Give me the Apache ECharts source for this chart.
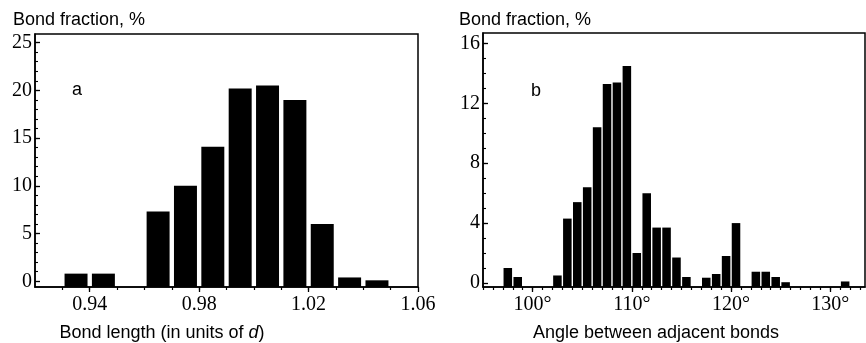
<!DOCTYPE html>
<html>
<head>
<meta charset="utf-8">
<script src="https://cdn.jsdelivr.net/npm/echarts@6/dist/echarts.min.js"></script>
<style>
  html, body { margin: 0; padding: 0; background: #fff; }
  #chart { width: 866px; height: 343px; }
</style>
</head>
<body>
<div id="chart"></div>
<script>
// (a) Bond-length histogram: bin centres (units of d) and bond fraction, %
const lengthBins = [0.935, 0.945, 0.965, 0.975, 0.985, 0.995, 1.005, 1.015, 1.025, 1.035, 1.045];
const lengthFraction = [0.8, 0.8, 7.3, 10.0, 14.1, 20.2, 20.5, 19.0, 6.0, 0.4, 0.1];
const lengthTickLabels = [0.94, 0.98, 1.02, 1.06];
const lengthFractionTicks = [0, 5, 10, 15, 20, 25];

// (b) Bond-angle histogram: bin centres (degrees) and bond fraction, %
const angleBins = [97.5, 98.5, 102.5, 103.5, 104.5, 105.5, 106.5, 107.5, 108.5, 109.5,
                   110.5, 111.5, 112.5, 113.5, 114.5, 115.5, 117.5, 118.5, 119.5, 120.5,
                   122.5, 123.5, 124.5, 125.5, 131.5];
const angleFraction = [1.0, 0.4, 0.5, 4.3, 5.4, 6.4, 10.4, 13.3, 13.4, 14.5,
                       2.0, 6.0, 3.7, 3.7, 1.7, 0.4, 0.35, 0.6, 1.8, 4.0,
                       0.75, 0.75, 0.4, 0.05, 0.1];
const angleTickLabels = [100, 110, 120, 130];
const angleFractionTicks = [0, 4, 8, 12, 16];

const SERIF = '"Liberation Serif", "Times New Roman", serif';
const SANS = '"Liberation Sans", Arial, sans-serif';

// evenly spaced minor tick positions between lo and hi (step in axis units)
function steps(lo, hi, step) {
  const out = [];
  const n = Math.round((hi - lo) / step);
  for (let k = 0; k <= n; k++) out.push(+(lo + k * step).toFixed(6));
  return out;
}

// rectangle from the bottom of the frame up to the bin's value
function histBar(binWidth, base) {
  return function (params, api) {
    const x = api.value(0), y = api.value(1);
    const p0 = api.coord([x - binWidth / 2, base]);
    const p1 = api.coord([x + binWidth / 2, y]);
    return {
      type: 'rect',
      shape: { x: p0[0], y: p1[1], width: p1[0] - p0[0], height: p0[1] - p1[1] },
      style: { fill: '#000' }
    };
  };
}

const axisLine = { show: true, onZero: false, lineStyle: { color: '#000', width: 1.5 } };

function xAxes(grid, min, max, labels, minorTicks, fmt) {
  return [
    {
      type: 'value', gridIndex: grid, min: min, max: max, position: 'bottom',
      axisLine: axisLine, splitLine: { show: false },
      axisTick: { show: true, inside: false, length: 5, customValues: labels, lineStyle: { color: '#000', width: 1.3 } },
      axisLabel: { show: true, customValues: labels, formatter: fmt, margin: 8,
                   color: '#000', fontFamily: SERIF, fontSize: 20 }
    },
    {
      type: 'value', gridIndex: grid, min: min, max: max, position: 'bottom',
      axisLine: { show: false, onZero: false }, splitLine: { show: false }, axisLabel: { show: false },
      axisTick: { show: true, inside: false, length: 3, customValues: minorTicks, lineStyle: { color: '#000', width: 1.2 } }
    }
  ];
}

function yAxes(grid, min, max, labels, minorTicks) {
  return [
    {
      type: 'value', gridIndex: grid, min: min, max: max, position: 'left',
      axisLine: axisLine, splitLine: { show: false },
      axisTick: { show: true, inside: true, length: 5, customValues: labels, lineStyle: { color: '#000', width: 1.3 } },
      axisLabel: { show: true, customValues: labels, margin: 3,
                   color: '#000', fontFamily: SERIF, fontSize: 20 }
    },
    {
      type: 'value', gridIndex: grid, min: min, max: max, position: 'left',
      axisLine: { show: false, onZero: false }, splitLine: { show: false }, axisLabel: { show: false },
      axisTick: { show: true, inside: true, length: 3, customValues: minorTicks, lineStyle: { color: '#000', width: 1.1 } }
    }
  ];
}

const A = { xMin: 0.92, xMax: 1.06, yMin: -0.6, yMax: 25.9 };
const B = { xMin: 95, xMax: 133.5, yMin: -0.27, yMax: 16.7 };

const gridStyle = { show: true, borderColor: '#000', borderWidth: 1.5, backgroundColor: 'transparent' };

const option = {
  animation: false,
  backgroundColor: '#fff',
  grid: [
    Object.assign({ left: 35, top: 34, width: 383, height: 253 }, gridStyle),
    Object.assign({ left: 483, top: 33, width: 382, height: 254 }, gridStyle)
  ],
  xAxis: [].concat(
    xAxes(0, A.xMin, A.xMax, lengthTickLabels, steps(0.93, 1.05, 0.01), v => v.toFixed(2)),
    xAxes(1, B.xMin, B.xMax, angleTickLabels, steps(95, 133, 1), v => v + '°')
  ),
  yAxis: [].concat(
    yAxes(0, A.yMin, A.yMax, lengthFractionTicks, steps(1, 25, 1)),
    yAxes(1, B.yMin, B.yMax, angleFractionTicks, steps(1, 16, 1))
  ),
  series: [
    {
      type: 'custom', xAxisIndex: 0, yAxisIndex: 0, clip: true,
      renderItem: histBar(0.0084, A.yMin),
      encode: { x: 0, y: 1 },
      data: lengthBins.map((x, i) => [x, lengthFraction[i]])
    },
    {
      type: 'custom', xAxisIndex: 2, yAxisIndex: 2, clip: true,
      renderItem: histBar(0.86, B.yMin),
      encode: { x: 0, y: 1 },
      data: angleBins.map((x, i) => [x, angleFraction[i]])
    }
  ],
  graphic: [
    { type: 'text', x: 13, y: 20, style: { text: 'Bond fraction, %', fontFamily: SANS, fontSize: 18, fill: '#000', verticalAlign: 'middle' } },
    { type: 'text', x: 459, y: 20, style: { text: 'Bond fraction, %', fontFamily: SANS, fontSize: 18, fill: '#000', verticalAlign: 'middle' } },
    { type: 'text', x: 77, y: 90, style: { text: 'a', fontFamily: SANS, fontSize: 18, fill: '#000', align: 'center', verticalAlign: 'middle' } },
    { type: 'text', x: 536, y: 91, style: { text: 'b', fontFamily: SANS, fontSize: 18, fill: '#000', align: 'center', verticalAlign: 'middle' } },
    { type: 'text', x: 162, y: 333, style: {
        text: 'Bond length (in units of {i|d})', fontFamily: SANS, fontSize: 18, fill: '#000',
        align: 'center', verticalAlign: 'middle',
        rich: { i: { fontFamily: SANS, fontSize: 18, fontStyle: 'italic', fill: '#000' } } } },
    { type: 'text', x: 656, y: 333, style: { text: 'Angle between adjacent bonds', fontFamily: SANS, fontSize: 18, fill: '#000', align: 'center', verticalAlign: 'middle' } }
  ]
};

echarts.init(document.getElementById('chart'), null, { renderer: 'canvas' }).setOption(option);
</script>
</body>
</html>
